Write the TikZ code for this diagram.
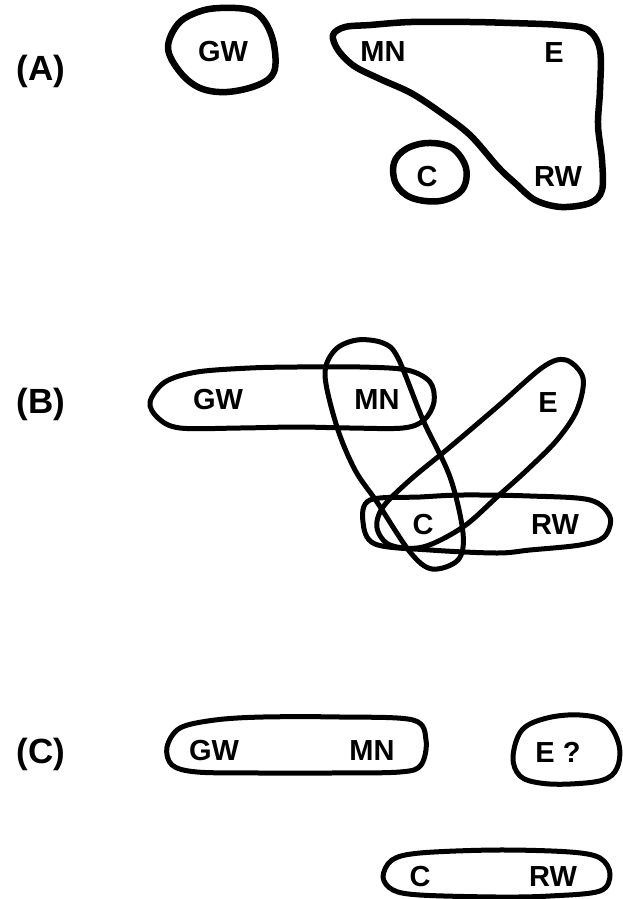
\documentclass[tikz,border=0pt]{standalone}
\usepackage{fontspec}
\setmainfont{Liberation Sans}
\begin{document}
\begin{tikzpicture}[x=1pt,y=-1pt,
  loopA/.style={line width=6.5pt, line join=round},
  loopB/.style={line width=5pt, line join=round},
  lbl/.style={inner sep=0pt, font=\bfseries\fontsize{29}{31}\selectfont},
  tag/.style={inner sep=0pt, font=\bfseries\fontsize{35}{37}\selectfont}]
\useasboundingbox (0,0) rectangle (622,899);

% ---------------- (A)
\draw[loopA] plot[smooth cycle, tension=0.6] coordinates {(220,8) (250,10) (265,22) (274,45) (274,72) (258,85) (227,92) (200,88) (180,72) (168,48) (178,24) (198,12)};
\draw[loopA] plot[smooth cycle, tension=0.55] coordinates {(345,27) (370,25) (411,22) (470,22) (511,23) (560,25) (588,30) (600,50) (600,90) (598,125) (602,160) (602,190) (590,203) (561,207) (535,200) (515,183) (498,167) (470,135) (440,112) (411,93) (380,79) (354,66) (338,50) (333,35)};
\draw[loopA] plot[smooth cycle, tension=0.6] coordinates {(428,143) (452,148) (466,168) (462,190) (440,201) (412,198) (396,184) (394,163) (406,149)};

\node[tag] (tA) at (41,71) {(A)};
\node[lbl] (aGW) at (223,52) {GW};
\node[lbl] (aMN) at (383,52) {MN};
\node[lbl] (aE) at (554,53) {E};
\node[lbl] (aRW) at (558,177) {RW};
\node[lbl] (aC) at (427,177) {C};

% ---------------- (B)
\draw[loopB] plot[smooth cycle, tension=0.55] coordinates {(150,402) (165,382) (197,372) (250,368) (297,367) (360,367) (407,370) (430,382) (434,402) (424,420) (403,428) (350,428) (297,427) (240,428) (180,428) (158,418)};
\draw[loopB] plot[smooth cycle, tension=0.55] coordinates {(357,340) (383,343) (398,358) (423,420) (450,477) (463,533) (458,560) (432,569) (410,552) (377,502) (355,470) (337,427) (325,375) (335,350)};
\draw[loopB] plot[smooth cycle, tension=0.55] coordinates {(566,360) (583,378) (577,410) (557,440) (527,470) (497,497) (463,527) (423,547) (390,545) (377,528) (383,507) (410,480) (450,447) (497,407) (543,367)};
\draw[loopB] plot[smooth cycle, tension=0.55] coordinates {(370,500) (420,497) (463,495) (530,496) (590,500) (610,517) (604,537) (580,545) (530,550) (497,553) (430,550) (375,544) (363,522)};

\node[tag] (tB) at (41,404) {(B)};
\node[lbl] (bGW) at (218,400) {GW};
\node[lbl] (bMN) at (377,400) {MN};
\node[lbl] (bE) at (548,403) {E};
\node[lbl] (bC) at (423,525) {C};
\node[lbl] (bRW) at (555,525) {RW};

% ---------------- (C)
\draw[loopB] plot[smooth cycle, tension=0.55] coordinates {(167,747) (180,728) (215,720) (263,717) (340,717) (413,720) (426,740) (421,765) (400,772) (330,773) (260,773) (197,772) (172,765)};
\draw[loopB] plot[smooth cycle, tension=0.6] coordinates {(513,757) (522,730) (547,718) (580,715) (606,722) (619,745) (617,768) (603,780) (570,784) (540,783) (520,776)};
\draw[loopB] plot[smooth cycle, tension=0.55] coordinates {(383,877) (392,860) (420,853) (497,850) (570,852) (600,858) (610,874) (600,891) (550,896) (497,897) (420,895) (393,890)};

\node[tag] (tC) at (41,754) {(C)};
\node[lbl] (cGW) at (214,751) {GW};
\node[lbl] (cMN) at (372,751) {MN};
\node[lbl] (cE) at (558,752) {E ?};
\node[lbl] (cC) at (420,877) {C};
\node[lbl] (cRW) at (553,877) {RW};
\end{tikzpicture}
\end{document}
